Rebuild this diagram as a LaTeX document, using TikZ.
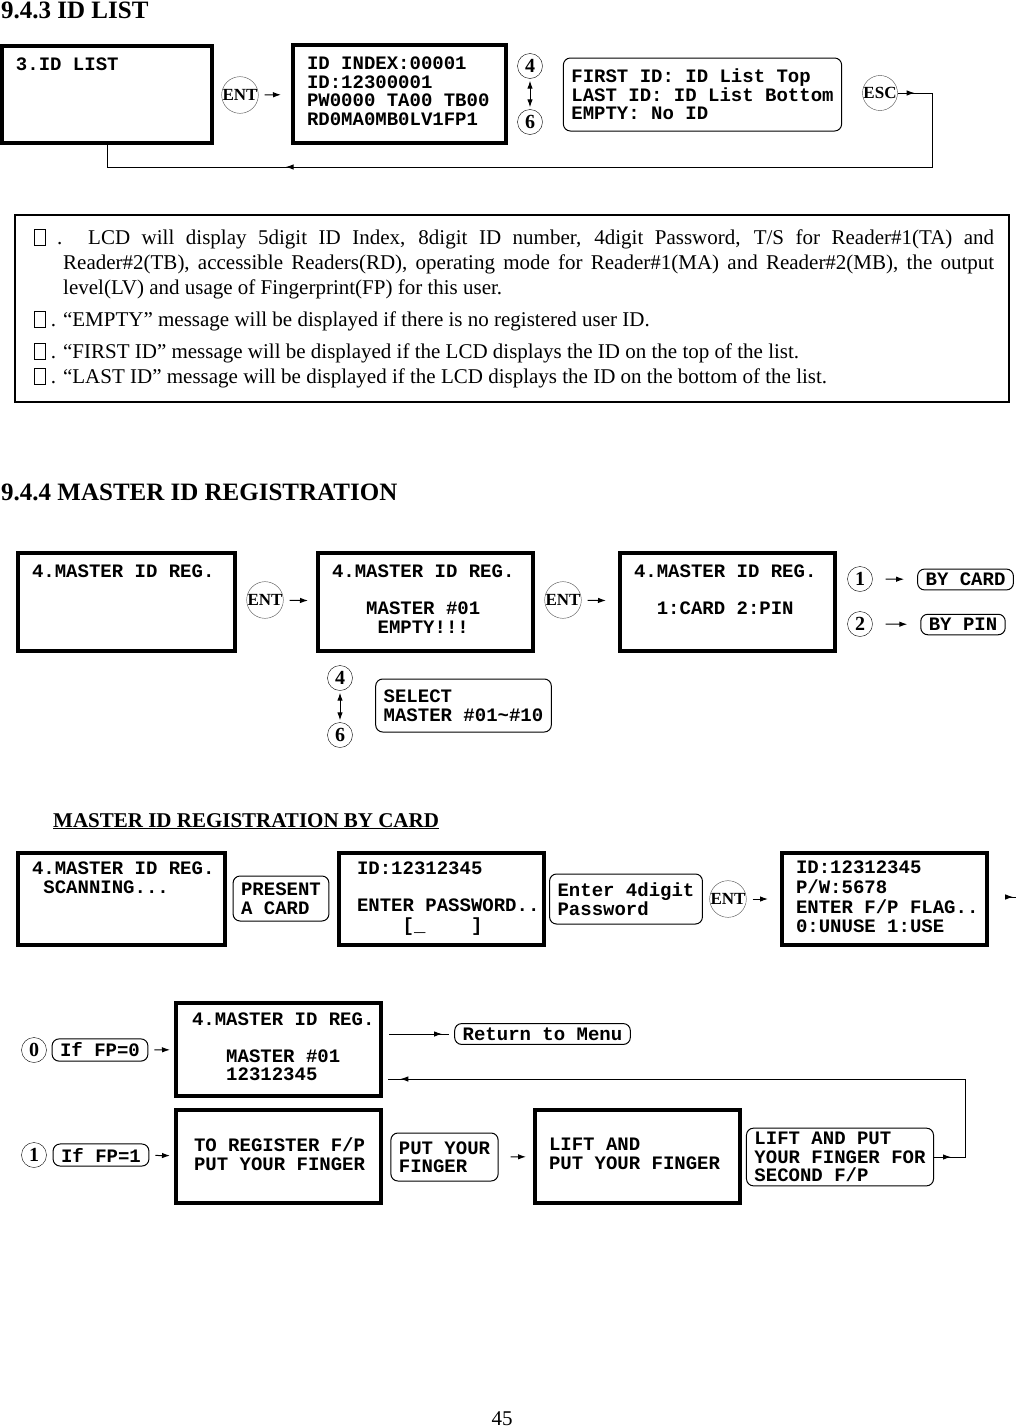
\documentclass[tikz,border=0pt]{standalone}
\usepackage{fontspec}
\setmainfont{Liberation Serif}
\newfontfamily\lcdfont{Liberation Mono}
\usetikzlibrary{arrows.meta,positioning,decorations.markings}
\newcommand\lcdsize{\fontsize{19}{18.5}\selectfont}
% four rows of a 16x4 display, spaces at full width
\newcommand\lcdrows[4]{\spaceskip=0pt\xspaceskip=0pt\frenchspacing\relax
  \strut\mbox{#1}\\\strut\mbox{#2}\\\strut\mbox{#3}\\\strut\mbox{#4}}
\newcommand\nbox{\raisebox{-1pt}{\setlength\fboxsep{0pt}\setlength\fboxrule{0.7pt}\fbox{\rule{0pt}{15pt}\hspace{10pt}}}}
\tikzset{
  lcd/.style={draw,line width=4pt,inner xsep=14pt,inner ysep=0pt,align=left,
              font=\lcdfont\bfseries\lcdsize},
  msg/.style={draw,line width=1pt,rounded corners=7pt,inner xsep=8pt,inner ysep=4pt,
              align=left,font=\lcdfont\bfseries\lcdsize},
  key/.style={draw=black!70,circle,inner sep=0pt,minimum size=34pt,
              font=\fontsize{17}{17}\selectfont\bfseries},
  num/.style={draw,circle,inner sep=0pt,minimum size=25pt,
              font=\fontsize{20}{20}\selectfont\bfseries},
  head/.style={font=\fontsize{25}{30}\selectfont\bfseries,inner sep=0pt},
  sub/.style={font=\fontsize{21}{25}\selectfont\bfseries,inner sep=0pt},
  memo/.style={text width=960pt,align=justify,inner sep=0pt,font=\fontsize{21}{25}\selectfont},
  ln/.style={line width=1pt},
  ar/.style={ln,->,shorten <=6pt,shorten >=8pt},
  tipat/.style={postaction={decorate,decoration={markings,mark=at position #1 with {\arrow{>}}}}},
}
\begin{document}
\begin{tikzpicture}[x=1pt,y=-1pt,>={Latex[length=8pt,width=5.5pt]}]
  \useasboundingbox (0,0) rectangle (1015,1427);
  % 9.4.3 id list
  \node[head,anchor=base west] (h943) at (1,18) {9.4.3 ID LIST};
  \node[lcd,text width=182pt,minimum height=97pt] (idlist) at (107,94.5) {\lcdrows{3.ID LIST}{}{}{}};
  \node[key] (ent1) at (240,95) {ENT};
  \node[lcd,text width=185pt,minimum height=98pt] (idindex) at (399.5,94)
       {\lcdrows{ID INDEX:00001}{ID:12300001}{PW0000 TA00 TB00}{RD0MA0MB0LV1FP1}};
  \node[num] (up1) at (530,66) {4};
  \node[num] (dn1) at (530,122) {6};
  \node[msg,minimum height=73pt] (range) at (702.5,94.5)
       {FIRST ID: ID List Top\\LAST ID: ID List Bottom\\EMPTY: No ID};
  \node[key] (esc1) at (880,93) {ESC};
  \coordinate (loop1) at (932,167);
  \draw[ar,shorten >=10pt] (ent1) -- (idindex);
  \draw[ln,<->,shorten <=2pt,shorten >=2pt] (up1) -- (dn1);
  \draw[ln,tipat=17pt,tipat=0.79] (esc1.east) -| (loop1) -| (idlist.south);
  % notes
  \node[draw,line width=1.2pt,minimum width=994pt,minimum height=187pt,inner sep=0pt] (memobox) at (512,308.5) {};
  \node[memo,anchor=base west] (memotext) at (34,244) {%
    \hangindent=29pt\hangafter=1 \nbox\ . LCD will display 5digit ID Index, 8digit ID number, 4digit Password, T/S for Reader\#1(TA) and\linebreak
    Reader\#2(TB), accessible Readers(RD), operating mode for Reader\#1(MA) and Reader\#2(MB), the output\linebreak
    level(LV) and usage of Fingerprint(FP) for this user.\par
    \vspace{7pt}\nbox\ . “EMPTY” message will be displayed if there is no registered user ID.\par
    \vspace{7pt}\nbox\ . “FIRST ID” message will be displayed if the LCD displays the ID on the top of the list.\par
    \nbox\ . “LAST ID” message will be displayed if the LCD displays the ID on the bottom of the list.};
  % 9.4.4 master id registration
  \node[head,anchor=base west] (h944) at (1,500) {9.4.4 MASTER ID REGISTRATION};
  \node[lcd,text width=189pt,minimum height=98pt] (mreg) at (126.5,602) {\lcdrows{4.MASTER ID REG.}{}{}{}};
  \node[key] (ent2) at (265,600) {ENT};
  \node[lcd,text width=187pt,minimum height=98pt] (mempty) at (425.5,602)
       {\lcdrows{4.MASTER ID REG.}{}{~~~MASTER \#01}{~~~~EMPTY!!!}};
  \node[key] (ent3) at (563,600) {ENT};
  \node[lcd,text width=187pt,minimum height=98pt] (mcard) at (727.5,602)
       {\lcdrows{4.MASTER ID REG.}{}{~~1:CARD 2:PIN}{}};
  \node[num] (one1) at (860,579) {1};
  \node[msg] (bycard) at (965.5,579.5) {BY CARD};
  \node[num] (two1) at (860,624) {2};
  \node[msg] (bypin) at (963,624.5) {BY PIN};
  \node[num] (up2) at (340,678) {4};
  \node[num] (dn2) at (340,735) {6};
  \node[msg,minimum height=53pt] (select) at (463.5,705.5) {SELECT\\MASTER \#01\textasciitilde\#10};
  \draw[ar] (ent2) -- (mempty);
  \draw[ar,shorten >=12pt] (ent3) -- (mcard);
  \draw[ar,shorten <=13pt,shorten >=13pt] (one1) -- (bycard);
  \draw[ar,shorten <=13pt,shorten >=13pt] (two1) -- (bypin);
  \draw[ln,<->,shorten <=2pt,shorten >=2pt] (up2) -- (dn2);
  % by card
  \node[sub,anchor=base west] (hcard) at (53,827) {\underline{MASTER ID REGISTRATION BY CARD}};
  \node[lcd,text width=179pt,minimum height=92pt] (scan) at (121.5,899) {\lcdrows{4.MASTER ID REG.}{ SCANNING...}{}{}};
  \node[msg,minimum height=45pt] (present) at (281,898.5) {PRESENT\\A CARD};
  \node[lcd,inner xsep=18pt,text width=169pt,minimum height=92pt] (pwd) at (441.5,899)
       {\lcdrows{ID:12312345}{}{ENTER PASSWORD..}{~~~~[\_~~~~]}};
  \node[msg,minimum height=50pt] (enter4) at (626,899) {Enter 4digit\\Password};
  \node[key] (ent4) at (728,899) {ENT};
  \node[lcd,text width=177pt,minimum height=92pt] (fpflag) at (884.5,899)
       {\lcdrows{ID:12312345}{P/W:5678}{ENTER F/P FLAG..}{0:UNUSE 1:USE}};
  \coordinate (fpnext) at (1020,897);
  \draw[ar,shorten >=12pt] (ent4) -- (fpflag);
  \draw[ln,tipat=0.78,shorten <=17pt] (fpflag.east |- fpnext) -- (fpnext);
  % fp flag
  \node[num] (zero) at (34,1050) {0};
  \node[msg] (iffp0) at (100,1050) {If FP=0};
  \node[lcd,inner xsep=16pt,text width=173pt,minimum height=93pt] (mdone) at (278.5,1049.5)
       {\lcdrows{4.MASTER ID REG.}{}{~~~MASTER \#01}{~~~12312345}};
  \node[msg] (retmenu) at (542.5,1034) {Return to Menu};
  \coordinate (back) at (965,1079);
  \node[num] (one2) at (34,1155) {1};
  \node[msg] (iffp1) at (101,1155) {If FP=1};
  \node[lcd,inner xsep=18pt,text width=169pt,minimum height=93pt] (toreg) at (278.5,1156.5)
       {\lcdrows{}{TO REGISTER F/P}{PUT YOUR FINGER}{}};
  \node[msg,minimum height=48pt] (putfp) at (444.5,1157) {PUT YOUR\\FINGER};
  \node[lcd,text width=177pt,minimum height=93pt] (lift) at (637.5,1156.5)
       {\lcdrows{}{LIFT AND}{PUT YOUR FINGER}{}};
  \node[msg] (liftput) at (840,1157) {LIFT AND PUT\\YOUR FINGER FOR\\SECOND F/P};
  \draw[ar,shorten >=4pt] (iffp0) -- (mdone);
  \draw[ar,shorten >=4pt] (iffp1) -- (toreg);
  \draw[ln,tipat=0.83,shorten <=6pt,shorten >=5pt] (mdone.east |- retmenu.west) -- (retmenu.west);
  \draw[ln,tipat=17pt,tipat=0.975,shorten >=5pt] (liftput.east) -| (back) -- (mdone.east |- back);
  \draw[ar,shorten <=12pt,shorten >=7pt] (putfp) -- (lift);
  \node[anchor=base,font=\fontsize{21}{25}\selectfont] (pgno) at (502,1425) {45};
\end{tikzpicture}
\end{document}
